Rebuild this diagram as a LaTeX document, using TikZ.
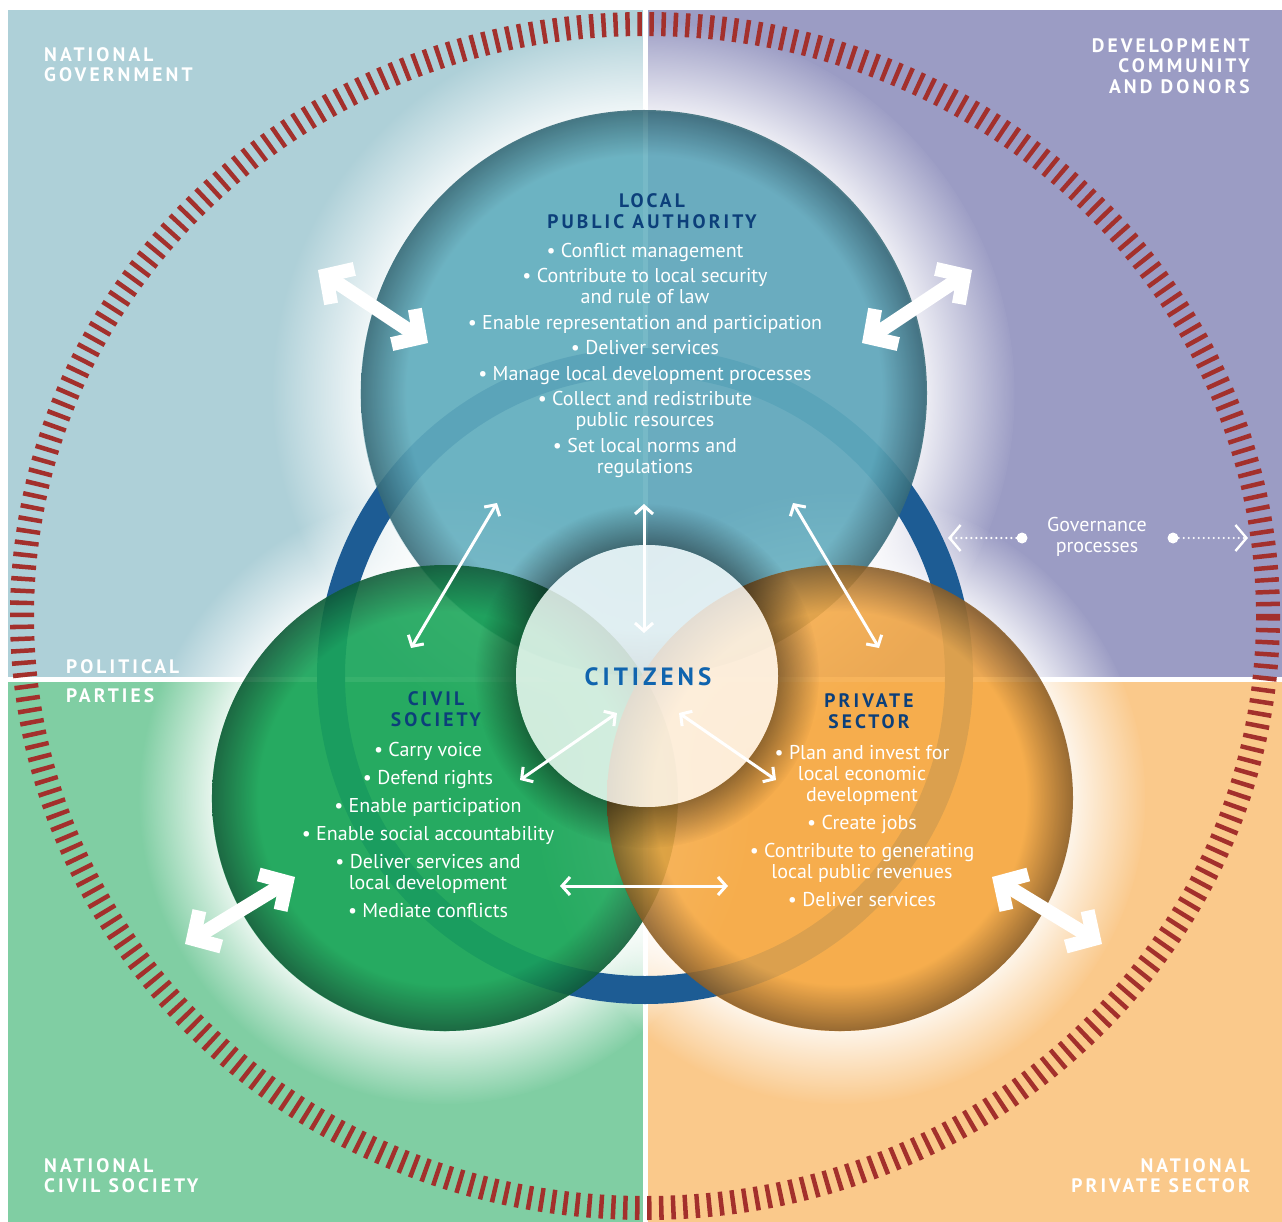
\documentclass[tikz,border=0pt]{standalone}
\usepackage{fontspec}
\setmainfont{PT Sans}
\newfontfamily\spacedfont[LetterSpace=16]{PT Sans}
\usetikzlibrary{arrows.meta,fadings}

\definecolor{govbg}{HTML}{AED0D8}
\definecolor{donorbg}{HTML}{9B9CC4}
\definecolor{civbg}{HTML}{80CEA3}
\definecolor{privbg}{HTML}{FAC98B}
\definecolor{tickred}{HTML}{A3302C}
\definecolor{ringblue}{HTML}{1D5C94}
\definecolor{lpacol}{HTML}{64AFBF}
\definecolor{lpadark}{HTML}{376B78}
\definecolor{civcol}{HTML}{1AA658}
\definecolor{civdark}{HTML}{0F5C36}
\definecolor{privcol}{HTML}{F6AA45}
\definecolor{privdark}{HTML}{8A5D26}
\definecolor{titlenavy}{HTML}{0C3F7A}
\definecolor{citblue}{HTML}{1064AE}

% circle fills, darker towards the rim
\pgfdeclareradialshading{lpashade}{\pgfpointorigin}{color(0bp)=(lpacol); color(21bp)=(lpacol); color(25bp)=(lpadark); color(50bp)=(lpadark)}
\pgfdeclareradialshading{civshade}{\pgfpointorigin}{color(0bp)=(civcol); color(20bp)=(civcol); color(25bp)=(civdark); color(50bp)=(civdark)}
\pgfdeclareradialshading{privshade}{\pgfpointorigin}{color(0bp)=(privcol); color(20bp)=(privcol); color(25bp)=(privdark); color(50bp)=(privdark)}
% soft glow round the circles
\pgfdeclareradialshading{glowmask}{\pgfpointorigin}{color(0bp)=(white); color(19bp)=(white); color(25bp)=(black); color(50bp)=(black)}
\pgfdeclarefading{glow}{\pgfuseshading{glowmask}}
\pgfdeclareradialshading{shadowmask}{\pgfpointorigin}{color(0bp)=(white); color(19bp)=(white); color(25bp)=(black); color(50bp)=(black)}
\pgfdeclarefading{citshadow}{\pgfuseshading{shadowmask}}

\begin{document}
\begin{tikzpicture}[x=1pt,y=-1pt,
    halo/.style={fill=white, fill opacity=0.8, path fading=glow, even odd rule},
    tickring/.style={draw=tickred, line width=24pt, dash pattern=on 4.5pt off 7.5pt},
    bullets/.style={text=white, align=center, inner sep=0pt, font=\fontsize{20}{21}\selectfont},
    circtitle/.style={text=titlenavy, align=center, inner sep=0pt, font=\spacedfont\bfseries\fontsize{19.5}{21}\selectfont},
    cornerlabel/.style={text=white, inner sep=0pt, font=\spacedfont\bfseries\fontsize{19.5}{20.5}\selectfont},
    bigarrow/.style={draw=white, line width=14pt, {Straight Barb[length=20pt,width=42pt,sharp]}-{Straight Barb[length=20pt,width=42pt,sharp]}},
    thinarrow/.style={draw=white, line width=3pt, {Straight Barb[length=8pt,width=18pt]}-{Straight Barb[length=8pt,width=18pt]}},
    govarrow/.style={draw=white, line width=2.4pt, line cap=round, dash pattern=on 0pt off 5pt, -{Straight Barb[length=11pt,width=26pt]}},
    govdot/.style={circle, fill=white, inner sep=0pt, minimum size=11pt}]
\useasboundingbox (0,0) rectangle (1282,1222);

% quadrants
\fill[govbg] (8,10) rectangle (643,677);
\fill[donorbg] (648,10) rectangle (1282,677);
\fill[civbg] (8,682) rectangle (643,1222);
\fill[privbg] (648,682) rectangle (1282,1222);

% glow
\fill[halo] (644,393) circle[radius=372] (644,393) circle[radius=283];
\fill[halo] (445,798) circle[radius=306] (445,798) circle[radius=233];
\fill[halo] (840,798) circle[radius=306] (840,798) circle[radius=233];

% rings
\draw[tickring] (645,616) ellipse[x radius=623, y radius=592];
\draw[ringblue, line width=28pt] (645,676) circle[radius=314];

% the three actors
\shade[shading=lpashade, opacity=0.88] (644,393) circle[radius=283];
\shade[shading=civshade, opacity=0.88] (445,798) circle[radius=233];
\shade[shading=privshade, opacity=0.88] (840,798) circle[radius=233];

% citizens
\fill[black, fill opacity=0.4, path fading=citshadow, even odd rule] (647,676) circle[radius=172] (647,676) circle[radius=131];
\fill[white, fill opacity=0.78] (647,676) circle[radius=131];

% texts
\node[circtitle, anchor=north] (lpatitle) at (652,193) {LOCAL\\PUBLIC AUTHORITY};
\node[bullets, anchor=north] (lpalist) at (645,243) {• Conflict management\\[4.5pt]• Contribute to local security\\and rule of law\\[4.5pt]• Enable representation and participation\\[4.5pt]• Deliver services\\[4.5pt]• Manage local development processes\\[4.5pt]• Collect and redistribute\\public resources\\[4.5pt]• Set local norms and\\regulations};
\node[circtitle, anchor=north] (civtitle) at (436,691) {CIVIL\\SOCIETY};
\node[bullets, anchor=north] (civlist) at (428,742) {• Carry voice\\[7pt]• Defend rights\\[7pt]• Enable participation\\[7pt]• Enable social accountability\\[7pt]• Deliver services and\\local development\\[7pt]• Mediate conflicts};
\node[circtitle, anchor=north] (privtitle) at (869,693) {PRIVATE\\SECTOR};
\node[bullets, anchor=north] (privlist) at (862,745) {• Plan and invest for\\local economic\\development\\[7pt]• Create jobs\\[7pt]• Contribute to generating\\local public revenues\\[7pt]• Deliver services};
\node[text=citblue, font=\spacedfont\bfseries\fontsize{25}{27}\selectfont] (citizens) at (648,677) {CITIZENS};

\node[cornerlabel, anchor=north west, align=left] (natgov) at (44,47) {NATIONAL\\GOVERNMENT};
\node[cornerlabel, anchor=north east, align=right] (donors) at (1250,38) {DEVELOPMENT\\COMMUNITY\\AND DONORS};
\node[cornerlabel, anchor=north west, align=left, font=\spacedfont\bfseries\fontsize{19.5}{29}\selectfont] (parties) at (66,659) {POLITICAL\\PARTIES};
\node[cornerlabel, anchor=north west, align=left] (natciv) at (44,1158) {NATIONAL\\CIVIL SOCIETY};
\node[cornerlabel, anchor=north east, align=right] (natpriv) at (1250,1158) {NATIONAL\\PRIVATE SECTOR};

% governance processes
\node[text=white, align=center, font=\fontsize{20}{21}\selectfont] (govproc) at (1097,537) {Governance\\processes};
\node[govdot] (gdotL) at (1022,538) {};
\node[govdot] (gdotR) at (1173,538) {};
\coordinate (gendL) at (948,538);
\coordinate (gendR) at (1248,538);
\draw[govarrow] (gdotL) -- (gendL);
\draw[govarrow] (gdotR) -- (gendR);

% big arrows to the national actors
\coordinate (govA) at (318,270);   \coordinate (govB) at (428,343);
\coordinate (donA) at (972,270);   \coordinate (donB) at (862,343);
\coordinate (ncsA) at (185,944);   \coordinate (ncsB) at (295,877);
\coordinate (npsA) at (1102,944);  \coordinate (npsB) at (992,877);
\draw[bigarrow] (govA) -- (govB);
\draw[bigarrow] (donA) -- (donB);
\draw[bigarrow] (ncsA) -- (ncsB);
\draw[bigarrow] (npsA) -- (npsB);

% thin arrows between actors
\coordinate (lpaC) at (644,504);  \coordinate (citN) at (644,633);
\coordinate (lpaL) at (497,503);  \coordinate (civN) at (411,648);
\coordinate (lpaR) at (793,503);  \coordinate (privN) at (879,648);
\coordinate (civE) at (520,780);  \coordinate (citW) at (617,713);
\coordinate (citE) at (679,713);  \coordinate (privW) at (776,780);
\coordinate (civS) at (560,886);  \coordinate (privS) at (728,886);
\draw[thinarrow] (lpaC) -- (citN);
\draw[thinarrow] (lpaL) -- (civN);
\draw[thinarrow] (lpaR) -- (privN);
\draw[thinarrow] (civE) -- (citW);
\draw[thinarrow] (citE) -- (privW);
\draw[thinarrow] (civS) -- (privS);
\end{tikzpicture}
\end{document}
